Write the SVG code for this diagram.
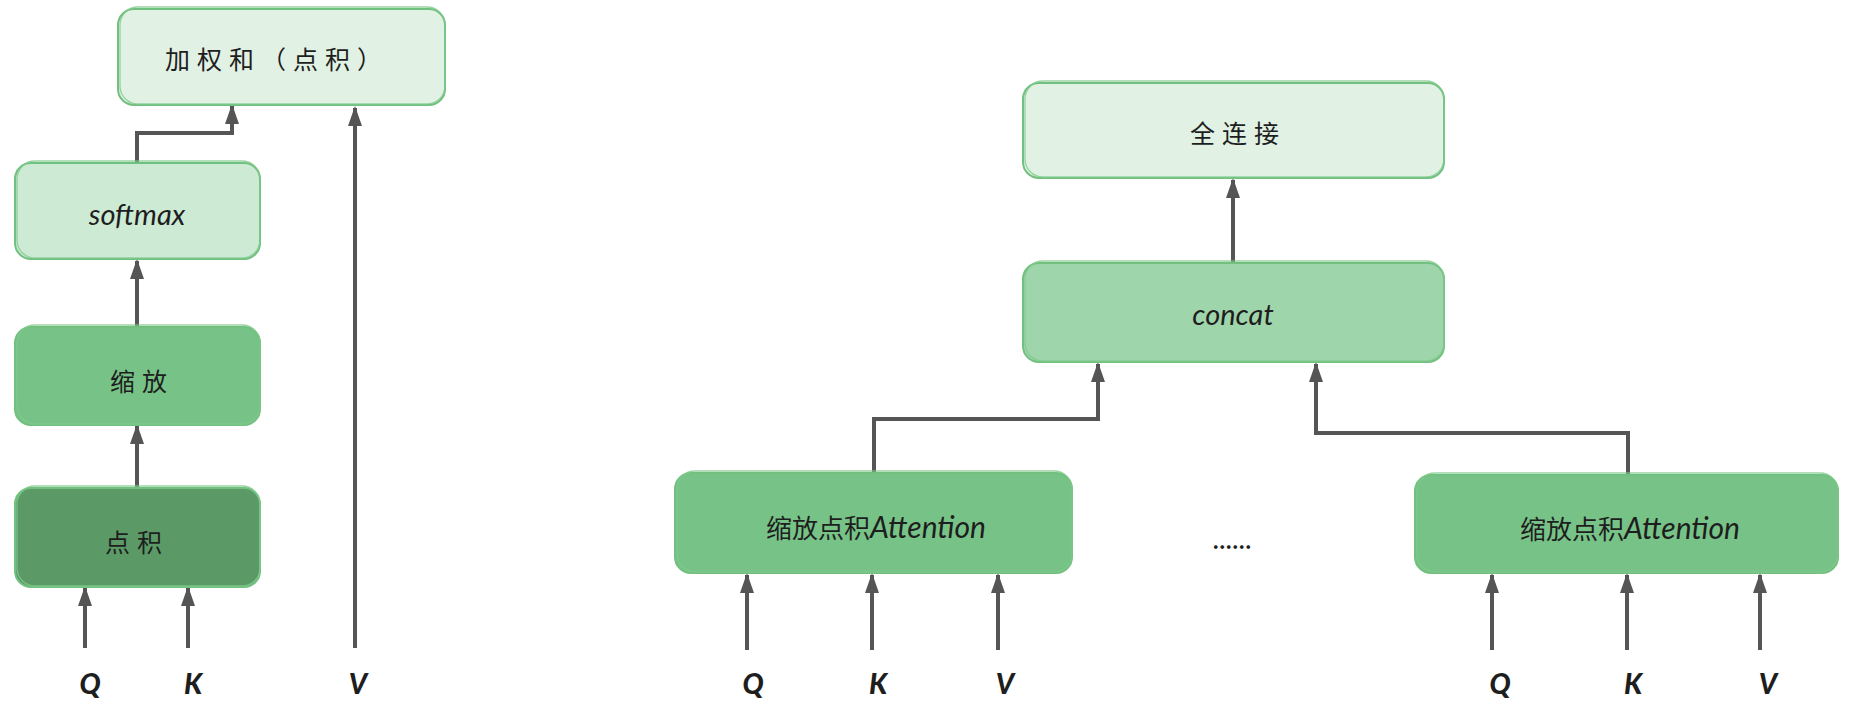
<svg xmlns="http://www.w3.org/2000/svg" width="1852" height="724" viewBox="0 0 1852 724">
<defs>
<marker id="ah" viewBox="0 0 20 15" refX="18" refY="7.5" markerWidth="20" markerHeight="15" markerUnits="userSpaceOnUse" orient="auto">
<path d="M0,0.5 L20,7.5 L0,14.5 z" fill="#555555"/>
</marker>
<style>
.box{stroke:#72c07f;stroke-width:2;}
.sk{fill:none;stroke:#80c98c;stroke-width:1.3;stroke-opacity:0.8;}
.t{font-family:"Noto Sans CJK SC","Lato",sans-serif;fill:#1e1e1e;text-anchor:middle;dominant-baseline:central;}
.cj{font-size:25px;letter-spacing:7px;}
.la{font-family:"Lato","Noto Sans CJK SC",sans-serif;font-style:italic;font-size:29px;}
.lbl{font-family:"Lato",sans-serif;font-weight:900;font-style:italic;font-size:28px;fill:#1e1e1e;text-anchor:middle;}
.c{fill:none;stroke:#555555;stroke-width:4;stroke-linejoin:miter;marker-end:url(#ah);}
.l0{fill:#e1f2e5}.l1{fill:#cdebd4}.l2{fill:#77c387}.l3{fill:#5b9a67}.l4{fill:#9fd5aa}
</style>
</defs>
<rect width="1852" height="724" fill="#ffffff"/>

<g id="connectors">
<path class="c" d="M137,163 V133 H232 V106"/>
<path class="c" d="M355,648 V108"/>
<path class="c" d="M137,327 V261"/>
<path class="c" d="M137,488 V426"/>
<path class="c" d="M85,648 V588"/>
<path class="c" d="M188,648 V588"/>
<path class="c" d="M1233,263 V180"/>
<path class="c" d="M874,473 V419 H1098 V364"/>
<path class="c" d="M1628,475 V433 H1316 V364"/>
<path class="c" d="M747,650 V575"/>
<path class="c" d="M872,650 V575"/>
<path class="c" d="M998,650 V575"/>
<path class="c" d="M1492,650 V575"/>
<path class="c" d="M1627,650 V575"/>
<path class="c" d="M1760,650 V575"/>
</g>

<g id="n-wsum">
<rect class="box l0" x="118" y="9" width="327" height="96" rx="16"/>
<rect class="sk" x="120" y="7" width="325" height="97" rx="18"/>
<text class="t cj" x="277" y="58">加权和（点积）</text>
</g>
<g id="n-softmax">
<rect class="box l1" x="15" y="163" width="245" height="96" rx="16"/>
<rect class="sk" x="17" y="161" width="243" height="97" rx="18"/>
<text class="t la" x="137" y="213">softmax</text>
</g>
<g id="n-scale">
<rect class="box l2" x="15" y="327" width="245" height="98" rx="16"/>
<rect class="sk" x="17" y="325" width="243" height="99" rx="18"/>
<text class="t cj" x="142" y="380">缩放</text>
</g>
<g id="n-dot">
<rect class="box l3" x="15" y="488" width="245" height="99" rx="16"/>
<rect class="sk" x="17" y="486" width="243" height="100" rx="18"/>
<text class="t cj" x="137" y="541">点积</text>
</g>
<g id="n-fc">
<rect class="box l0" x="1023" y="83" width="421" height="95" rx="16"/>
<rect class="sk" x="1025" y="81" width="419" height="96" rx="18"/>
<text class="t cj" x="1238" y="132">全连接</text>
</g>
<g id="n-concat">
<rect class="box l4" x="1023" y="263" width="421" height="99" rx="16"/>
<rect class="sk" x="1025" y="261" width="419" height="100" rx="18"/>
<text class="t la" x="1233" y="313">concat</text>
</g>
<g id="n-att1">
<rect class="box l2" x="675" y="473" width="397" height="100" rx="16"/>
<rect class="sk" x="677" y="471" width="395" height="101" rx="18"/>
<text class="t" x="876" y="526" style="font-size:26px"><tspan>缩放点积</tspan><tspan font-family="Lato" font-style="italic" font-size="30">Attention</tspan></text>
</g>
<g id="n-att2">
<rect class="box l2" x="1415" y="475" width="423" height="98" rx="16"/>
<rect class="sk" x="1417" y="473" width="421" height="99" rx="18"/>
<text class="t" x="1630" y="527" style="font-size:26px"><tspan>缩放点积</tspan><tspan font-family="Lato" font-style="italic" font-size="30">Attention</tspan></text>
</g>
<g id="n-dots">
<text class="t" x="1232" y="540" style="font-size:20px;font-weight:bold;">......</text>
</g>

<g id="labels">
<text class="lbl" x="90" y="694">Q</text>
<text class="lbl" x="193" y="694">K</text>
<text class="lbl" x="358" y="694">V</text>
<text class="lbl" x="753" y="694">Q</text>
<text class="lbl" x="878" y="694">K</text>
<text class="lbl" x="1005" y="694">V</text>
<text class="lbl" x="1500" y="694">Q</text>
<text class="lbl" x="1633" y="694">K</text>
<text class="lbl" x="1768" y="694">V</text>
</g>
</svg>
